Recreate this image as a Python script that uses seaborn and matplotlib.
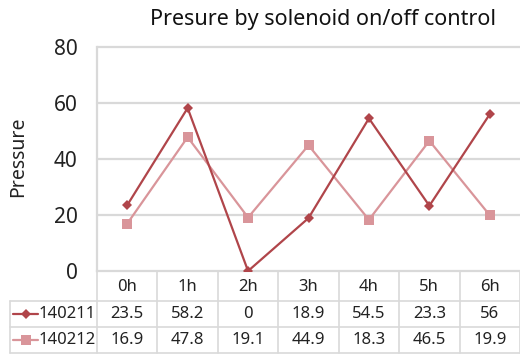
import matplotlib
matplotlib.use("Agg")
import matplotlib.pyplot as plt
import seaborn as sns
import pandas as pd
from matplotlib.lines import Line2D

hours = ["0h", "1h", "2h", "3h", "4h", "5h", "6h"]
series_names = ["140211", "140212"]
s140211 = [23.5, 58.2, 0, 18.9, 54.5, 23.3, 56]
s140212 = [16.9, 47.8, 19.1, 44.9, 18.3, 46.5, 19.9]
value_labels = [["23.5", "58.2", "0", "18.9", "54.5", "23.3", "56"],
                ["16.9", "47.8", "19.1", "44.9", "18.3", "46.5", "19.9"]]
yticks = [0, 20, 40, 60, 80]
colors = ["#B0454A", "#D9959A"]
markers = ["D", "s"]
msizes = [5.5, 7]

sns.set_theme(style="white")
plt.rcParams["font.family"] = ["Noto Sans", "DejaVu Sans"]

df = pd.DataFrame({
    "hour": hours * 2,
    "value": s140211 + s140212,
    "series": [series_names[0]] * 7 + [series_names[1]] * 7,
})

W, H = 520, 356
fig = plt.figure(figsize=(W / 100, H / 100), dpi=100)
left, right, top, bottom = 97, 520, 47, 271
ax = fig.add_axes([left / W, 1 - bottom / H, (right - left) / W, (bottom - top) / H])

grid_c = "#D9D9D9"
for val in yticks[1:]:
    ax.axhline(val, color=grid_c, lw=1.6, zorder=0, clip_on=False)

for i, name in enumerate(series_names):
    sub = df[df["series"] == name]
    sns.lineplot(data=sub, x="hour", y="value", ax=ax, color=colors[i],
                 marker=markers[i], markersize=msizes[i], markeredgewidth=0,
                 lw=1.6, legend=False, zorder=3 - i)

ax.set_xlim(-0.5, 6.5)
ax.set_ylim(0, 80)
ax.set_yticks(yticks)
ax.set_yticklabels([str(v) for v in yticks], fontsize=15, color="#222222")
ax.tick_params(axis="y", length=0, pad=14)
ax.set_xticks([])
ax.set_xlabel("")
ax.set_ylabel("Pressure", fontsize=14, color="#222222")
ax.yaxis.set_label_coords((28 - left) / (right - left), 0.511)
for s in ["top", "right"]:
    ax.spines[s].set_visible(False)
ax.spines["left"].set_color(grid_c)
ax.spines["left"].set_linewidth(1.6)
ax.spines["bottom"].set_color(grid_c)
ax.spines["bottom"].set_linewidth(1.6)

fig.text(323 / W, 1 - 20 / H, "Presure by solenoid on/off control",
         ha="center", va="center", fontsize=15.5, color="#111111")

# data table below the axes
ph = bottom - top
def yfrac(py):
    return -(py - bottom) / ph

trans = ax.get_xaxis_transform()
row_edges = [271, 301, 327, 353]
for k in range(8):
    xk = k - 0.5
    ax.plot([xk, xk], [yfrac(271), yfrac(353)], transform=trans, color=grid_c,
            lw=1.2, clip_on=False)
cw = (right - left) / 7
x_left_data = -0.5 - (left - 10) / cw
for py in [301, 327, 353]:
    ax.plot([x_left_data, 6.5], [yfrac(py), yfrac(py)], transform=trans,
            color=grid_c, lw=1.2, clip_on=False)
ax.plot([x_left_data, x_left_data], [yfrac(301), yfrac(353)], transform=trans,
        color=grid_c, lw=1.2, clip_on=False)

for j, h in enumerate(hours):
    ax.text(j, yfrac(287), h, transform=trans, ha="center", va="center",
            fontsize=12, color="#222222")
for r in range(2):
    yc = yfrac((row_edges[r + 1] + row_edges[r + 2]) / 2)
    for j, lab in enumerate(value_labels[r]):
        ax.text(j, yc, lab, transform=trans, ha="center", va="center",
                fontsize=12, color="#222222")
    xa = -0.5 - (left - 13) / cw
    xb = -0.5 - (left - 38) / cw
    ax.add_line(Line2D([xa, xb], [yc, yc], transform=trans, color=colors[r],
                       lw=1.6, clip_on=False))
    ax.add_line(Line2D([(xa + xb) / 2], [yc], transform=trans, color=colors[r],
                       marker=markers[r], markersize=msizes[r] - 0.5,
                       markeredgewidth=0, clip_on=False))
    ax.text(-0.5 - (left - 39) / cw, yc, series_names[r], transform=trans,
            ha="left", va="center", fontsize=12, color="#222222")

fig.savefig("out.png", dpi=100, facecolor="white")
